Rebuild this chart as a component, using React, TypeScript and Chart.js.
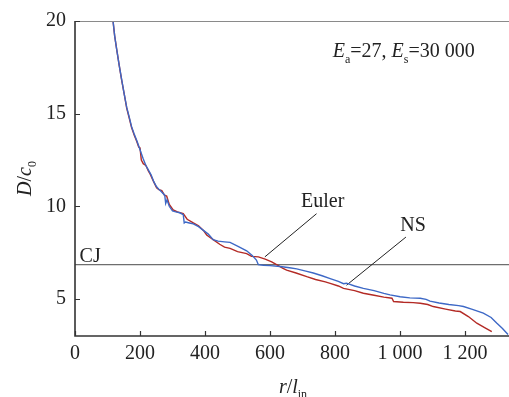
import React, { useEffect, useRef } from "react";
import { Chart, registerables } from "chart.js";

Chart.register(...registerables);

// ---- data ----
const nsX = [117, 122, 128, 136, 144, 152, 159, 167, 174, 182, 190, 196, 203, 210, 218, 226, 234, 243, 251, 259, 268, 276, 279, 283, 290, 300, 310, 322, 333, 336, 340, 352, 364, 380, 395, 410, 425, 440, 460, 477, 500, 528, 545, 558, 564, 580, 600, 631, 660, 682, 710, 733, 760, 785, 810, 826, 835, 860, 887, 920, 950, 969, 1000, 1030, 1062, 1080, 1092, 1120, 1150, 1180, 1195, 1220, 1256, 1280, 1297, 1315, 1332];
const nsY = [20, 19.2, 18.5, 17.6, 16.8, 16.0, 15.35, 14.8, 14.3, 13.9, 13.55, 13.25, 12.9, 12.55, 12.2, 11.95, 11.7, 11.3, 11.05, 10.9, 10.75, 10.6, 10.15, 10.35, 10.0, 9.75, 9.7, 9.65, 9.55, 9.1, 9.15, 9.1, 9.05, 8.9, 8.7, 8.5, 8.2, 8.12, 8.08, 8.05, 7.85, 7.6, 7.35, 7.1, 6.85, 6.82, 6.8, 6.75, 6.68, 6.62, 6.5, 6.4, 6.25, 6.1, 5.95, 5.82, 5.85, 5.7, 5.57, 5.45, 5.3, 5.22, 5.12, 5.06, 5.04, 4.98, 4.88, 4.78, 4.7, 4.64, 4.59, 4.45, 4.23, 4.0, 3.7, 3.4, 3.08];

const eulerX = [117, 122, 128, 136, 144, 152, 159, 167, 174, 182, 190, 196, 200, 204, 210, 218, 226, 231, 240, 251, 258, 267, 275, 282, 290, 302, 315, 333, 345, 364, 380, 395, 405, 425, 445, 460, 477, 500, 528, 543, 564, 585, 605, 620, 640, 651, 680, 713, 740, 770, 785, 810, 826, 860, 887, 920, 950, 975, 980, 1010, 1040, 1062, 1085, 1102, 1140, 1170, 1185, 1210, 1236, 1260, 1282];
const eulerY = [20, 19.2, 18.5, 17.6, 16.75, 16.0, 15.3, 14.75, 14.25, 13.85, 13.5, 13.2, 13.15, 12.5, 12.3, 12.2, 11.9, 11.75, 11.4, 11.0, 10.9, 10.85, 10.6, 10.55, 10.1, 9.8, 9.7, 9.6, 9.3, 9.1, 8.95, 8.7, 8.45, 8.2, 7.95, 7.8, 7.73, 7.55, 7.45, 7.3, 7.27, 7.15, 7.0, 6.85, 6.65, 6.55, 6.4, 6.2, 6.05, 5.92, 5.84, 5.7, 5.57, 5.45, 5.31, 5.2, 5.1, 5.04, 4.86, 4.82, 4.8, 4.77, 4.7, 4.59, 4.45, 4.35, 4.32, 4.05, 3.69, 3.45, 3.24];

const cjValue = 6.85;
const xMin = 0;
const xMax = 1335;
const yMin = 3;
const yMax = 20;
const xTicks = [0, 200, 400, 600, 800, 1000, 1200];
const xTickLabels = ["0", "200", "400", "600", "800", "1 000", "1 200"];
const yTicks = [5, 10, 15, 20];
const yTickLabels = ["5", "10", "15", "20"];

// annotation anchors (data units)
const eulerLeaderX = [743, 584];
const eulerLeaderY = [9.6, 7.27];
const nsLeaderX = [1018, 835];
const nsLeaderY = [8.34, 5.74];
const eulerLabel = { x: 762, y: 10.32, text: "Euler" };
const nsLabel = { x: 1040, y: 9.03, text: "NS" };
const cjLabel = { x: 14, y: 7.36, text: "CJ" };
const paramLabel = { x: 793, y: 18.39 };

const SERIF = "'Liberation Serif', 'Times New Roman', serif";

type Seg = { t: string; italic?: boolean; sub?: boolean };

function drawRich(ctx: CanvasRenderingContext2D, segs: Seg[], x: number, yCenter: number, size: number, align: "left" | "center") {
  const fontOf = (s: Seg) => `${s.italic ? "italic " : ""}${s.sub ? Math.round(size * 0.62) : size}px ${SERIF}`;
  let total = 0;
  const widths = segs.map((s) => {
    ctx.font = fontOf(s);
    const w = ctx.measureText(s.t).width;
    total += w;
    return w;
  });
  let cx = align === "center" ? x - total / 2 : x;
  const baseline = yCenter + size * 0.33;
  ctx.textAlign = "left";
  ctx.textBaseline = "alphabetic";
  segs.forEach((s, i) => {
    ctx.font = fontOf(s);
    ctx.fillText(s.t, cx, baseline + (s.sub ? size * 0.28 : 0));
    cx += widths[i];
  });
}

const decorPlugin = {
  id: "decor",
  afterDatasetsDraw(chart: any) {
    const ctx: CanvasRenderingContext2D = chart.ctx;
    const { left, right, top, bottom } = chart.chartArea;
    const xs = chart.scales.x;
    const ys = chart.scales.y;
    ctx.save();
    // top border
    ctx.strokeStyle = "#8a8a8a";
    ctx.lineWidth = 1;
    ctx.beginPath();
    ctx.moveTo(left, top + 0.5);
    ctx.lineTo(right, top + 0.5);
    ctx.stroke();
    // left & bottom axes
    ctx.strokeStyle = "#333";
    ctx.lineWidth = 1.6;
    ctx.beginPath();
    ctx.moveTo(left, top);
    ctx.lineTo(left, bottom);
    ctx.lineTo(right, bottom);
    ctx.stroke();
    // inward ticks
    ctx.lineWidth = 1.2;
    ctx.beginPath();
    xTicks.forEach((v) => {
      const px = Math.round(xs.getPixelForValue(v)) + 0.5;
      ctx.moveTo(px, bottom);
      ctx.lineTo(px, bottom - 5);
    });
    yTicks.forEach((v) => {
      const py = Math.round(ys.getPixelForValue(v)) + 0.5;
      ctx.moveTo(left, py);
      ctx.lineTo(left + 5, py);
    });
    ctx.stroke();

    ctx.fillStyle = "#222";
    // labels
    const lbl = (o: { x: number; y: number; text: string }, align: "left" | "center") =>
      drawRich(ctx, [{ t: o.text }], xs.getPixelForValue(o.x), ys.getPixelForValue(o.y), 20, align);
    lbl(eulerLabel, "center");
    lbl(nsLabel, "center");
    lbl(cjLabel, "left");
    drawRich(
      ctx,
      [
        { t: "E", italic: true },
        { t: "a", sub: true },
        { t: "=27, " },
        { t: "E", italic: true },
        { t: "s", sub: true },
        { t: "=30 000" },
      ],
      xs.getPixelForValue(paramLabel.x),
      ys.getPixelForValue(paramLabel.y),
      20,
      "left"
    );
    // x axis title
    drawRich(
      ctx,
      [{ t: "r", italic: true }, { t: "/" }, { t: "l", italic: true }, { t: "in", sub: true }],
      (left + right) / 2 + 1,
      bottom + 50,
      20,
      "center"
    );
    // y axis title
    ctx.save();
    ctx.translate(24, (top + bottom) / 2);
    ctx.rotate(-Math.PI / 2);
    drawRich(ctx, [{ t: "D", italic: true }, { t: "/" }, { t: "c", italic: true }, { t: "0", sub: true }], 0, 0, 20, "center");
    ctx.restore();
    ctx.restore();
  },
};

export default function App() {
  const ref = useRef<HTMLCanvasElement | null>(null);
  useEffect(() => {
    if (!ref.current) return;
    const chart = new Chart(ref.current, {
      type: "line",
      data: {
        datasets: [
          {
            label: "NS",
            data: nsX.map((x, i) => ({ x, y: nsY[i] })),
            borderColor: "#3d68c6",
            borderWidth: 1.4,
            pointRadius: 0,
            fill: false,
            tension: 0,
            order: 0,
          },
          {
            label: "Euler",
            data: eulerX.map((x, i) => ({ x, y: eulerY[i] })),
            borderColor: "#b32a25",
            borderWidth: 1.4,
            pointRadius: 0,
            fill: false,
            tension: 0,
            order: 1,
          },
          {
            label: "CJ",
            data: [
              { x: xMin, y: cjValue },
              { x: xMax, y: cjValue },
            ],
            borderColor: "#6e6e6e",
            borderWidth: 1.1,
            pointRadius: 0,
            order: 5,
          },
          {
            label: "euler-leader",
            data: eulerLeaderX.map((x, i) => ({ x, y: eulerLeaderY[i] })),
            borderColor: "#222",
            borderWidth: 1,
            pointRadius: 0,
            order: 4,
          },
          {
            label: "ns-leader",
            data: nsLeaderX.map((x, i) => ({ x, y: nsLeaderY[i] })),
            borderColor: "#222",
            borderWidth: 1,
            pointRadius: 0,
            order: 4,
          },
        ],
      },
      options: {
        responsive: false,
        animation: false,
        events: [],
        layout: { padding: { top: 20, right: 0, left: 0, bottom: 0 } },
        plugins: { legend: { display: false }, tooltip: { enabled: false } },
        scales: {
          x: {
            type: "linear",
            min: xMin,
            max: xMax,
            grid: { display: false, drawTicks: false, tickLength: 0 },
            border: { display: false },
            afterBuildTicks: (s: any) => {
              s.ticks = xTicks.map((v) => ({ value: v }));
            },
            afterFit: (s: any) => {
              s.height = 61;
            },
            ticks: {
              padding: 6,
              maxRotation: 0,
              autoSkip: false,
              color: "#222",
              font: { family: SERIF, size: 20 },
              callback: (v: any) => {
                const i = xTicks.indexOf(Number(v));
                return i >= 0 ? xTickLabels[i] : "";
              },
            },
          },
          y: {
            type: "linear",
            min: yMin,
            max: yMax,
            grid: { display: false, drawTicks: false, tickLength: 0 },
            border: { display: false },
            afterBuildTicks: (s: any) => {
              s.ticks = yTicks.map((v) => ({ value: v }));
            },
            afterFit: (s: any) => {
              s.width = 75;
            },
            ticks: {
              padding: 9,
              color: "#222",
              font: { family: SERIF, size: 20 },
              callback: (v: any) => {
                const i = yTicks.indexOf(Number(v));
                return i >= 0 ? yTickLabels[i] : "";
              },
            },
          },
        },
      },
      plugins: [decorPlugin],
    });
    return () => chart.destroy();
  }, []);
  return (
    <div style={{ position: "fixed", left: 0, top: 0, width: 509, height: 397, background: "#fff" }}>
      <canvas ref={ref} width={509} height={397} style={{ display: "block" }} />
    </div>
  );
}
